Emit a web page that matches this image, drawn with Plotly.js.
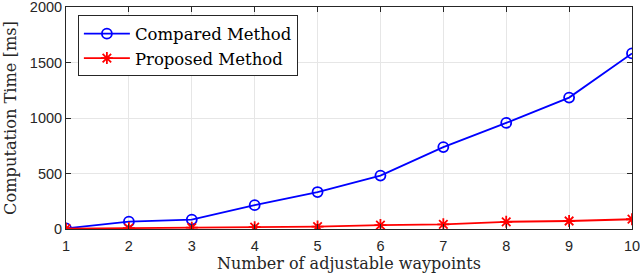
<!DOCTYPE html>
<html><head><meta charset="utf-8">
<script src="https://cdn.plot.ly/plotly-3.0.1.min.js"></script>
<style>html,body{margin:0;padding:0;background:#fff}#chart{width:640px;height:276px}</style>
</head><body><div id="chart"></div>
<script>
const waypoints = [1, 2, 3, 4, 5, 6, 7, 8, 9, 10];
const comparedMs = [6, 66, 85, 215, 333, 481, 738, 956, 1184, 1582];
const proposedMs = [3, 8, 12, 16, 22, 35, 42, 65, 72, 88];
const xTicks = [1, 2, 3, 4, 5, 6, 7, 8, 9, 10];
const yTicks = [0, 500, 1000, 1500, 2000];

const traces = [
  {x: waypoints, y: comparedMs, name: 'Compared Method', mode: 'lines+markers',
   line: {color: '#0000ff', width: 1.8},
   marker: {symbol: 'circle-open', size: 10, color: '#0000ff', line: {width: 1.8, color: '#0000ff'}}},
  {x: waypoints, y: proposedMs, name: 'Proposed Method', mode: 'lines+markers',
   line: {color: '#ff0000', width: 1.8},
   marker: {symbol: 'asterisk-open', size: 10, color: '#ff0000', line: {width: 1.8, color: '#ff0000'}}}
];
const serif = 'DejaVu Serif, serif';
const axisCommon = {
  showline: true, linecolor: '#262626', linewidth: 1, mirror: 'ticks',
  ticks: 'inside', ticklen: 5, tickcolor: '#262626',
  showgrid: true, gridcolor: '#e6e6e6', gridwidth: 1, zeroline: false,
  ticklabeloverflow: 'allow',
  tickfont: {family: 'Liberation Sans, Arial, sans-serif', size: 14.5, color: '#262626'}
};
const layout = {
  width: 640, height: 276,
  margin: {l: 66, r: 8, t: 7, b: 47},
  paper_bgcolor: '#fff', plot_bgcolor: '#fff',
  showlegend: true,
  xaxis: Object.assign({}, axisCommon, {range: [1, 10], tickvals: xTicks, ticklabelstandoff: 4,
    title: {text: 'Number of adjustable waypoints', standoff: 3,
      font: {family: serif, size: 16, color: '#262626'}}}),
  yaxis: Object.assign({}, axisCommon, {range: [0, 2000], tickvals: yTicks,
    title: {text: 'Computation Time [ms]', standoff: 9,
      font: {family: serif, size: 16.2, color: '#262626'}}}),
  legend: {x: 0.021, y: 0.962, xanchor: 'left', yanchor: 'top',
    bgcolor: '#fff', bordercolor: '#262626', borderwidth: 1,
    font: {family: serif, size: 16.5, color: '#000'},
    tracegroupgap: 0, itemwidth: 46}
};
Plotly.newPlot('chart', traces, layout, {displayModeBar: false, staticPlot: true});
</script></body></html>
